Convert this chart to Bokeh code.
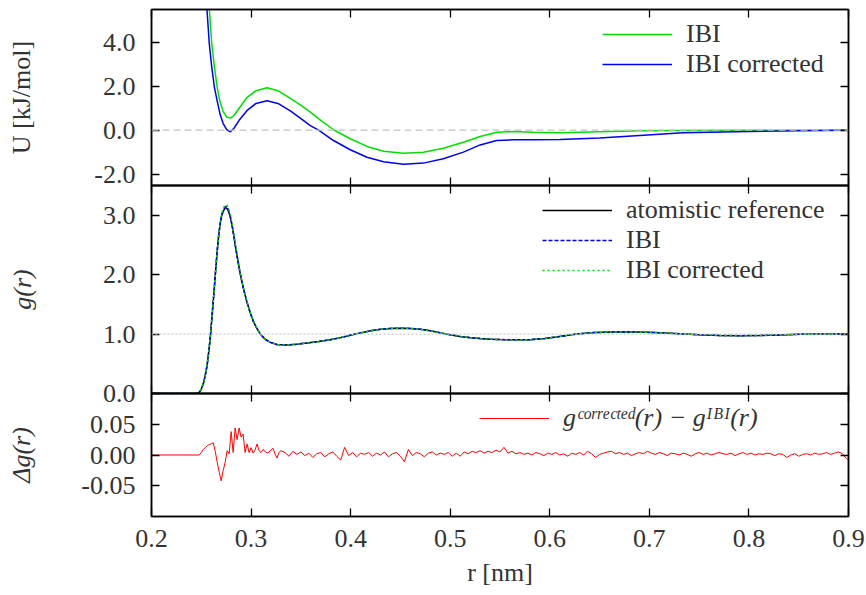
import numpy as np
from bokeh.plotting import figure
from bokeh.layouts import column
from bokeh.models import Range1d, LinearAxis, FixedTicker, Span, Legend, LegendItem
from bokeh.embed import file_html
from bokeh.resources import INLINE

# ---------------- data ----------------
# potential U(r), IBI
r_U_ibi = [0.2555, 0.2582, 0.2605, 0.2632, 0.2660, 0.2685, 0.2720, 0.2755, 0.2792, 0.2830,
           0.2880, 0.2960, 0.3050, 0.3160, 0.3270, 0.3394, 0.3494, 0.3595, 0.3700, 0.3828,
           0.3996, 0.4164, 0.4330, 0.4530, 0.4731, 0.4931, 0.5132, 0.5300, 0.5467, 0.5634,
           0.5835, 0.6102, 0.6500, 0.6904, 0.7338, 0.8007, 0.8500, 0.9000]
U_ibi = [7.00, 5.45, 3.95, 2.87, 1.95, 1.35, 0.85, 0.60, 0.55, 0.68,
         1.00, 1.50, 1.80, 1.93, 1.80, 1.45, 1.15, 0.82, 0.45, 0.02,
         -0.39, -0.74, -0.96, -1.05, -1.00, -0.82, -0.55, -0.29, -0.09, -0.06,
         -0.09, -0.12, -0.07, -0.02, -0.01, 0.00, 0.00, 0.00]
# potential U(r), IBI corrected
r_U_corr = [0.2535, 0.2558, 0.2580, 0.2605, 0.2632, 0.2659, 0.2690, 0.2720, 0.2755, 0.2792,
            0.2830, 0.2880, 0.2960, 0.3050, 0.3160, 0.3270, 0.3394, 0.3494, 0.3595, 0.3678,
            0.3828, 0.3996, 0.4164, 0.4330, 0.4530, 0.4731, 0.4931, 0.5132, 0.5300, 0.5467,
            0.5634, 0.5835, 0.6102, 0.6500, 0.6904, 0.7338, 0.8007, 0.8500, 0.9000]
U_corr = [7.00, 5.45, 3.95, 2.87, 1.95, 1.35, 0.70, 0.30, 0.03, -0.07,
          0.10, 0.45, 0.90, 1.22, 1.34, 1.22, 0.88, 0.55, 0.21, 0.00,
          -0.47, -0.89, -1.23, -1.44, -1.55, -1.50, -1.30, -1.00, -0.67, -0.47,
          -0.44, -0.44, -0.42, -0.35, -0.24, -0.12, -0.06, -0.03, 0.00]

# radial distribution functions g(r)
r_g = [0.2000, 0.2450, 0.2480, 0.2500, 0.2525, 0.2545, 0.2558, 0.2575, 0.2592, 0.2608,
       0.2625, 0.2642, 0.2659, 0.2675, 0.2692, 0.2708, 0.2725, 0.2740, 0.2755, 0.2770,
       0.2792, 0.2810, 0.2826, 0.2842, 0.2859, 0.2884, 0.2909, 0.2935, 0.2960, 0.2993,
       0.3026, 0.3060, 0.3093, 0.3143, 0.3193, 0.3260, 0.3360, 0.3460, 0.3562, 0.3680,
       0.3795, 0.3900, 0.3996, 0.4100, 0.4200, 0.4300, 0.4400, 0.4500, 0.4600, 0.4700,
       0.4800, 0.4900, 0.5000, 0.5100, 0.5200, 0.5300, 0.5400, 0.5500, 0.5650, 0.5800,
       0.5950, 0.6100, 0.6270, 0.6450, 0.6650, 0.6850, 0.7050, 0.7250, 0.7500, 0.7700,
       0.7900, 0.8100, 0.8300, 0.8500, 0.8700, 0.9000]
g_ref = [0.000, 0.000, 0.020, 0.070, 0.190, 0.350, 0.470, 0.700, 0.970, 1.300,
         1.650, 2.020, 2.380, 2.660, 2.880, 3.010, 3.080, 3.120, 3.120, 3.080,
         2.970, 2.820, 2.660, 2.490, 2.320, 2.080, 1.870, 1.690, 1.530, 1.350,
         1.200, 1.090, 1.000, 0.910, 0.860, 0.825, 0.815, 0.830, 0.850, 0.875,
         0.905, 0.940, 0.980, 1.020, 1.055, 1.080, 1.095, 1.100, 1.095, 1.080,
         1.055, 1.020, 0.990, 0.960, 0.940, 0.925, 0.913, 0.907, 0.903, 0.905,
         0.925, 0.960, 1.000, 1.025, 1.035, 1.035, 1.025, 1.010, 0.990, 0.978,
         0.973, 0.976, 0.985, 0.995, 1.000, 1.000]
g_ibi = [0.000, 0.000, 0.020, 0.070, 0.190, 0.350, 0.470, 0.700, 0.975, 1.310,
         1.660, 2.030, 2.390, 2.670, 2.900, 3.030, 3.100, 3.140, 3.150, 3.100,
         2.980, 2.820, 2.660, 2.490, 2.320, 2.080, 1.870, 1.690, 1.530, 1.350,
         1.200, 1.090, 1.000, 0.910, 0.860, 0.825, 0.815, 0.830, 0.850, 0.875,
         0.905, 0.940, 0.980, 1.020, 1.055, 1.080, 1.095, 1.100, 1.095, 1.080,
         1.055, 1.020, 0.990, 0.960, 0.940, 0.925, 0.913, 0.907, 0.903, 0.905,
         0.925, 0.960, 1.000, 1.025, 1.035, 1.035, 1.025, 1.010, 0.990, 0.978,
         0.973, 0.976, 0.985, 0.995, 1.000, 1.000]
g_corr = [0.000, 0.000, 0.020, 0.072, 0.195, 0.360, 0.485, 0.715, 0.985, 1.300,
          1.640, 2.010, 2.380, 2.670, 2.900, 3.040, 3.130, 3.170, 3.180, 3.140,
          3.010, 2.860, 2.690, 2.520, 2.350, 2.100, 1.880, 1.700, 1.535, 1.355,
          1.205, 1.092, 1.002, 0.911, 0.861, 0.825, 0.815, 0.830, 0.850, 0.875,
          0.905, 0.940, 0.980, 1.020, 1.055, 1.080, 1.095, 1.100, 1.095, 1.080,
          1.055, 1.020, 0.990, 0.960, 0.940, 0.925, 0.913, 0.907, 0.903, 0.905,
          0.925, 0.960, 1.000, 1.025, 1.035, 1.035, 1.025, 1.010, 0.990, 0.978,
          0.973, 0.976, 0.985, 0.995, 1.000, 1.000]

# difference g_corrected - g_IBI, sampled every 0.002 nm (0.246-0.330)
# and every 0.004 nm (0.334-0.898)
dg_head_r = [0.200]
dg_head = [0.000]
dg_fine_r0, dg_fine_dr = 0.246, 0.002
dg_fine = [0.000, 0.000, 0.004, 0.009, 0.012, 0.015, 0.017, 0.018, 0.020, 0.006,
           -0.012, -0.028, -0.042, -0.025, -0.012, 0.007, 0.002, 0.038, 0.004, 0.044,
           0.025, 0.044, 0.029, 0.034, 0.004, 0.018, 0.004, 0.012, 0.003, 0.008,
           0.018, 0.007, 0.004, 0.009, 0.006, 0.003, 0.005, 0.008, 0.011, 0.002,
           -0.005, 0.004, 0.007]
dg_coarse_r0, dg_coarse_dr = 0.334, 0.004
dg_coarse = [0.004, -0.002, 0.006, 0.001, 0.005, -0.001, 0.003, -0.004, 0.002, 0.004,
             -0.003, 0.002, 0.005, -0.002, -0.008, 0.0125, -0.001, 0.004, -0.003, 0.003,
             0.001, 0.004, -0.002, 0.003, 0.000, 0.005, -0.003, 0.002, 0.004, -0.002,
             -0.011, 0.009, -0.001, 0.004, 0.002, -0.003, 0.003, 0.005, 0.000, 0.003,
             0.001, 0.004, -0.002, 0.003, -0.002, 0.005, 0.002, 0.006, 0.004, 0.007,
             0.003, 0.006, 0.004, 0.008, 0.005, 0.0125, 0.003, 0.006, 0.002, 0.004,
             0.001, 0.003, 0.000, 0.004, 0.002, -0.001, 0.003, 0.001, 0.004, 0.000,
             0.002, -0.002, 0.003, 0.001, 0.004, 0.000, 0.006, 0.002, -0.004, 0.001,
             0.003, 0.005, 0.006, 0.002, 0.004, 0.001, 0.003, -0.001, 0.002, 0.004,
             0.002, 0.006, 0.003, 0.001, 0.004, 0.002, -0.001, 0.003, 0.002, 0.000,
             0.003, 0.001, -0.002, 0.002, 0.004, 0.001, 0.003, 0.000, 0.002, 0.004,
             0.002, 0.001, 0.003, -0.001, 0.002, 0.004, 0.001, 0.003, 0.000, 0.002,
             0.001, 0.003, 0.002, -0.001, 0.002, 0.001, -0.004, 0.000, 0.002, -0.002,
             0.001, 0.002, 0.000, 0.003, 0.001, 0.002, 0.004, 0.001, 0.003, 0.005,
             0.002, -0.006]
dg_tail_r = [0.900]
dg_tail = [-0.008]

r_dg = (dg_head_r
        + list(dg_fine_r0 + dg_fine_dr * np.arange(len(dg_fine)))
        + list(dg_coarse_r0 + dg_coarse_dr * np.arange(len(dg_coarse)))
        + dg_tail_r)
dg = dg_head + dg_fine + dg_coarse + dg_tail

# ticks
x_ticks = [0.2, 0.3, 0.4, 0.5, 0.6, 0.7, 0.8, 0.9]
x_tick_labels = ["0.2", "0.3", "0.4", "0.5", "0.6", "0.7", "0.8", "0.9"]
U_ticks = [-2.0, 0.0, 2.0, 4.0]
U_tick_labels = ["-2.0", "0.0", "2.0", "4.0"]
g_ticks = [0.0, 1.0, 2.0, 3.0]
g_tick_labels = ["0.0", "1.0", "2.0", "3.0"]
dg_ticks = [-0.05, 0.0, 0.05]
dg_tick_labels = ["-0.05", "0.00", "0.05"]

# ---------------- styling ----------------
FONT = "Liberation Serif"
TXT = "#333333"
FS = "26px"
GREEN = "#00e000"
BLUE = "#0000f0"
RED = "#ff0000"
OV = 18  # overlap of neighbouring canvases so edge tick labels are not clipped

xr = Range1d(0.2, 0.9)


def style_axis(ax, ticks, labels, show):
    ax.ticker = FixedTicker(ticks=ticks, minor_ticks=[])
    ax.major_label_overrides = {t: l for t, l in zip(ticks, labels)}
    ax.major_tick_in = 8
    ax.major_tick_out = 0
    ax.minor_tick_in = 0
    ax.minor_tick_out = 0
    ax.major_tick_line_color = "black"
    ax.major_tick_line_width = 1.3
    ax.axis_line_color = "black"
    ax.axis_line_width = 1.5
    if show:
        ax.major_label_text_font = FONT
        ax.major_label_text_font_size = FS
        ax.major_label_text_color = TXT
    else:
        ax.major_label_text_font_size = "0px"
        ax.major_label_standoff = 0
        ax.major_label_text_alpha = 0


def panel(frame_h, yr, yt, ylab, ylabel, ylabel_style, ylabel_standoff,
          top_border, bottom_border, margin, show_x):
    p = figure(frame_width=697, frame_height=frame_h, x_range=xr,
               y_range=Range1d(*yr), output_backend="svg", toolbar_location=None,
               x_axis_location=None, y_axis_location=None,
               min_border_left=151, min_border_right=18,
               min_border_top=top_border, min_border_bottom=bottom_border,
               margin=margin)
    p.background_fill_alpha = 0
    p.border_fill_alpha = 0
    p.outline_line_color = "black"
    p.outline_line_width = 1.5
    p.xgrid.visible = False
    p.ygrid.visible = False

    left = LinearAxis()
    style_axis(left, yt, ylab, True)
    left.major_label_standoff = 16
    left.axis_label = ylabel
    left.axis_label_text_font = FONT
    left.axis_label_text_font_size = FS
    left.axis_label_text_font_style = ylabel_style
    left.axis_label_text_color = TXT
    left.axis_label_standoff = ylabel_standoff
    p.add_layout(left, "left")

    right = LinearAxis()
    style_axis(right, yt, ylab, False)
    p.add_layout(right, "right")

    above = LinearAxis()
    style_axis(above, x_ticks, x_tick_labels, False)
    p.add_layout(above, "above")

    below = LinearAxis()
    style_axis(below, x_ticks, x_tick_labels, show_x)
    if show_x:
        below.major_label_standoff = 13
        below.axis_label = "r [nm]"
        below.axis_label_text_font = FONT
        below.axis_label_text_font_size = FS
        below.axis_label_text_font_style = "normal"
        below.axis_label_text_color = TXT
        below.axis_label_standoff = 8
    p.add_layout(below, "below")
    return p


def add_legend(p, items, label_width):
    lg = Legend(items=items, location="top_right")
    lg.border_line_color = None
    lg.background_fill_alpha = 0
    lg.label_text_font = FONT
    lg.label_text_font_size = FS
    lg.label_text_color = TXT
    lg.glyph_width = 70
    lg.glyph_height = 24
    lg.label_height = 24
    lg.label_width = label_width
    lg.label_standoff = 14
    lg.spacing = 0
    lg.padding = 8
    lg.margin = 10
    p.add_layout(lg)
    return lg


# ---- top: potentials ----
p1 = panel(176, (-2.52, 5.50), U_ticks, U_tick_labels, "U [kJ/mol]", "normal", 55,
           9, OV, (0, 0, -OV, 0), False)
p1.add_layout(Span(location=0, dimension="width", line_color="#c4c4c4",
                   line_width=1.2, line_dash="7 4"))
l_ibi = p1.line(r_U_ibi, U_ibi, line_color=GREEN, line_width=1.5)
l_cor = p1.line(r_U_corr, U_corr, line_color=BLUE, line_width=1.5)
add_legend(p1, [LegendItem(label="IBI", renderers=[l_ibi]),
                LegendItem(label="IBI corrected", renderers=[l_cor])], 152)

# ---- middle: g(r) ----
p2 = panel(208, (0.0, 3.5), g_ticks, g_tick_labels, "g(r)", "italic", 63,
           OV, OV, (-OV, 0, -OV, 0), False)
p2.add_layout(Span(location=1.0, dimension="width", line_color="#c8c8c8",
                   line_width=1.2, line_dash="2 2"))
l_ref = p2.line(r_g, g_ref, line_color="black", line_width=1.5)
l_gi = p2.line(r_g, g_ibi, line_color=BLUE, line_width=1.5, line_dash="4 2")
l_gc = p2.line(r_g, g_corr, line_color=GREEN, line_width=1.5, line_dash="2 3")
add_legend(p2, [LegendItem(label="atomistic reference", renderers=[l_ref]),
                LegendItem(label="IBI", renderers=[l_gi]),
                LegendItem(label="IBI corrected", renderers=[l_gc])], 212)

# ---- bottom: difference ----
p3 = panel(123, (-0.1, 0.1), dg_ticks, dg_tick_labels, "Δg(r)", "italic", 42,
           OV, 79, (-OV, 0, 0, 0), True)
l_dg = p3.line(r_dg, dg, line_color=RED, line_width=1.0)
lg3 = add_legend(p3, [LegendItem(label="gᶜᵒʳʳᵉᶜᵗᵉᵈ(r) − gᴵᴮᴵ(r)", renderers=[l_dg])], 275)
lg3.label_text_font_style = "italic"

layout = column(p1, p2, p3, spacing=0)
open("out.html", "w").write(file_html(layout, INLINE))
